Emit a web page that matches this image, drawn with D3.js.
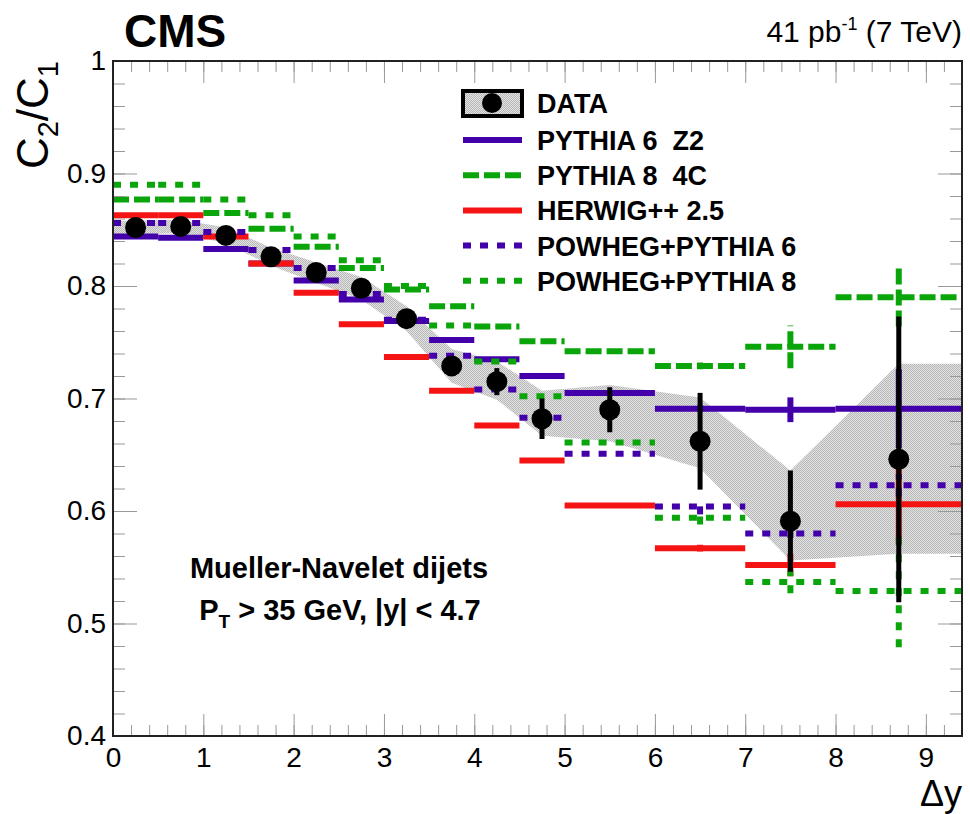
<!DOCTYPE html>
<html>
<head>
<meta charset="utf-8">
<script src="https://cdn.jsdelivr.net/npm/d3@7"></script>
<style>
    body { margin: 0; background: #fff; }
    svg { display: block; font-family: "Liberation Sans", Arial, Helvetica, sans-serif; }
    .tick line { stroke: #999; stroke-width: 1; }
    .tick text { font-size: 28px; fill: #000; }
</style>
</head>
<body>
<div id="chart"></div>
<script>
// bin edges and bin centres (delta y)
var binEdges = [0, 0.5, 1, 1.5, 2, 2.5, 3, 3.5, 4, 4.5, 5, 6, 7, 8, 9.4];
var binCentres = [0.25, 0.75, 1.25, 1.75, 2.25, 2.75, 3.25, 3.75, 4.25, 4.75, 5.5, 6.5, 7.5, 8.7];

// data points, stat errors and systematic band
var dataY = [0.852, 0.853, 0.845, 0.826, 0.812, 0.798, 0.771, 0.729, 0.715, 0.682, 0.690, 0.662, 0.591, 0.646];
var dataStat = [0.003, 0.003, 0.003, 0.004, 0.004, 0.005, 0.006, 0.008, 0.012, 0.018, 0.020, 0.043, 0.045, 0.127];
var sysUp = [0.006, 0.006, 0.007, 0.008, 0.009, 0.010, 0.011, 0.015, 0.018, 0.025, 0.022, 0.039, 0.045, 0.085];
var sysDown = [0.006, 0.006, 0.007, 0.008, 0.009, 0.010, 0.011, 0.015, 0.016, 0.015, 0.028, 0.024, 0.035, 0.084];

// MC predictions
var pythia6 = [0.844, 0.843, 0.833, 0.820, 0.805, 0.788, 0.769, 0.752, 0.735, 0.720, 0.705, 0.691, 0.690, 0.691];
var pythia6Err = [0, 0, 0, 0, 0, 0, 0, 0, 0, 0, 0, 0.003, 0.011, 0.035];
var pythia8 = [0.877, 0.877, 0.865, 0.851, 0.835, 0.816, 0.797, 0.782, 0.764, 0.751, 0.742, 0.729, 0.746, 0.790];
var pythia8Err = [0, 0, 0, 0, 0, 0, 0, 0, 0, 0, 0, 0.003, 0.019, 0.026];
var herwig = [0.863, 0.863, 0.844, 0.820, 0.794, 0.766, 0.737, 0.707, 0.676, 0.645, 0.605, 0.567, 0.552, 0.606];
var herwigErr = [0, 0, 0, 0, 0, 0, 0, 0, 0, 0, 0, 0.003, 0.01, 0.035];
var powhegP6 = [0.856, 0.856, 0.848, 0.832, 0.816, 0.793, 0.770, 0.738, 0.708, 0.683, 0.651, 0.604, 0.580, 0.623];
var powhegP6Err = [0, 0, 0, 0, 0, 0, 0, 0, 0, 0, 0, 0.007, 0.004, 0.01];
var powhegP8 = [0.890, 0.890, 0.877, 0.863, 0.844, 0.823, 0.800, 0.765, 0.733, 0.702, 0.661, 0.594, 0.537, 0.529];
var powhegP8Err = [0, 0, 0, 0, 0, 0, 0, 0, 0, 0, 0, 0.006, 0.01, 0.05];

var seriesNames = ["PYTHIA 6  Z2", "PYTHIA 8  4C", "HERWIG++ 2.5", "POWHEG+PYTHIA 6", "POWHEG+PYTHIA 8"];

var xTicks = [0, 1, 2, 3, 4, 5, 6, 7, 8, 9];
var yTicks = [0.4, 0.5, 0.6, 0.7, 0.8, 0.9, 1];
var yTickLabels = ["0.4", "0.5", "0.6", "0.7", "0.8", "0.9", "1"];

var margin = {
    top: 61,
    right: 8,
    bottom: 78,
    left: 113
};
var totalWidth = 970,
    totalHeight = 814;
var width = totalWidth - margin.left - margin.right,
    height = totalHeight - margin.top - margin.bottom;

var blue = "#4300aa",
    green = "#0aa50a",
    red = "#f51414";
var dashed = "16,5",
    dotted = "8,9";

var mc = [
    { name: seriesNames[0], vals: pythia6, errs: pythia6Err, color: blue, dash: null },
    { name: seriesNames[1], vals: pythia8, errs: pythia8Err, color: green, dash: dashed },
    { name: seriesNames[2], vals: herwig, errs: herwigErr, color: red, dash: null },
    { name: seriesNames[3], vals: powhegP6, errs: powhegP6Err, color: blue, dash: dotted },
    { name: seriesNames[4], vals: powhegP8, errs: powhegP8Err, color: green, dash: dotted }
];

var svg = d3.select("#chart").append("svg")
    .attr("width", totalWidth)
    .attr("height", totalHeight);

// stipple fill for the systematic band
var defs = svg.append("defs");
var pat = defs.append("pattern")
    .attr("id", "stipple")
    .attr("width", 2)
    .attr("height", 2)
    .attr("patternUnits", "userSpaceOnUse");
pat.append("rect").attr("width", 2).attr("height", 2).attr("fill", "#e2e2e2");
pat.append("rect").attr("x", 0).attr("y", 0).attr("width", 1).attr("height", 1).attr("fill", "#b8b8b8");
pat.append("rect").attr("x", 1).attr("y", 1).attr("width", 1).attr("height", 1).attr("fill", "#b8b8b8");

var x = d3.scaleLinear()
    .domain([0, 9.4])
    .range([0, width]);

var y = d3.scaleLinear()
    .domain([0.4, 1])
    .range([height, 0]);

var wrapper = svg.append("g")
    .attr("transform", "translate(" + margin.left + "," + margin.top + ")");

defs.append("clipPath")
    .attr("id", "clip")
    .append("rect")
    .attr("width", width)
    .attr("height", height);

var plot = wrapper.append("g")
    .attr("clip-path", "url(#clip)");

// systematic band (flat extension to both edges)
var bandPts = binCentres.map(function (c, i) {
    return { x: c, lo: dataY[i] - sysDown[i], hi: dataY[i] + sysUp[i] };
});
bandPts.unshift({ x: 0, lo: bandPts[0].lo, hi: bandPts[0].hi });
bandPts.push({ x: 9.4, lo: bandPts[bandPts.length - 1].lo, hi: bandPts[bandPts.length - 1].hi });

var band = d3.area()
    .x(function (d) { return x(d.x); })
    .y0(function (d) { return y(d.lo); })
    .y1(function (d) { return y(d.hi); });

plot.append("path")
    .datum(bandPts)
    .attr("d", band)
    .attr("fill", "url(#stipple)");

// MC histograms
mc.forEach(function (s) {
    var g = plot.append("g").attr("class", "mc");
    g.selectAll("line.h")
        .data(s.vals)
        .enter()
        .append("line")
        .attr("class", "h")
        .attr("x1", function (d, i) { return x(binEdges[i]); })
        .attr("x2", function (d, i) { return x(binEdges[i + 1]); })
        .attr("y1", function (d) { return y(d); })
        .attr("y2", function (d) { return y(d); })
        .attr("stroke", s.color)
        .attr("stroke-width", 6)
        .attr("stroke-dasharray", s.dash);
    var errs = [];
    s.vals.forEach(function (d, i) {
        if (s.errs[i] > 0) errs.push({ c: binCentres[i], v: d, e: s.errs[i] });
    });
    g.selectAll("line.e")
        .data(errs)
        .enter()
        .append("line")
        .attr("class", "e")
        .attr("x1", function (d) { return x(d.c); })
        .attr("x2", function (d) { return x(d.c); })
        .attr("y1", function (d) { return y(d.v - d.e); })
        .attr("y2", function (d) { return y(d.v + d.e); })
        .attr("stroke", s.color)
        .attr("stroke-width", 6)
        .attr("stroke-dasharray", s.dash);
});

// data points with stat errors
var pts = plot.append("g").attr("class", "data");
pts.selectAll("line")
    .data(dataY)
    .enter()
    .append("line")
    .attr("x1", function (d, i) { return x(binCentres[i]); })
    .attr("x2", function (d, i) { return x(binCentres[i]); })
    .attr("y1", function (d, i) { return y(d - dataStat[i]); })
    .attr("y2", function (d, i) { return y(d + dataStat[i]); })
    .attr("stroke", "#000")
    .attr("stroke-width", 5);
pts.selectAll("circle")
    .data(dataY)
    .enter()
    .append("circle")
    .attr("cx", function (d, i) { return x(binCentres[i]); })
    .attr("cy", function (d) { return y(d); })
    .attr("r", 10.5)
    .attr("fill", "#000");

// axes, ticks inward on all four sides
function minorVals(domain, step) {
    var out = [];
    for (var v = domain[0]; v <= domain[1] + 1e-9; v += step) out.push(+v.toFixed(3));
    return out;
}
var xMinor = minorVals([0, 9.4], 0.2);
var yMinor = minorVals([0.4, 1], 0.02);

wrapper.append("g")
    .attr("transform", "translate(0," + height + ")")
    .call(d3.axisBottom(x).tickValues(xMinor).tickSize(-11).tickFormat(""));
wrapper.append("g")
    .attr("transform", "translate(0," + height + ")")
    .call(d3.axisBottom(x).tickValues(xTicks).tickSize(-22).tickPadding(11).tickFormat(d3.format("d")));
wrapper.append("g")
    .call(d3.axisTop(x).tickValues(xMinor).tickSize(-11).tickFormat(""));
wrapper.append("g")
    .call(d3.axisTop(x).tickValues(xTicks).tickSize(-22).tickFormat(""));

wrapper.append("g")
    .call(d3.axisLeft(y).tickValues(yMinor).tickSize(-12).tickFormat(""));
wrapper.append("g")
    .call(d3.axisLeft(y).tickValues(yTicks).tickSize(-24).tickPadding(7)
        .tickFormat(function (d, i) { return yTickLabels[i]; }));
wrapper.append("g")
    .attr("transform", "translate(" + width + ",0)")
    .call(d3.axisRight(y).tickValues(yMinor).tickSize(-12).tickFormat(""));
wrapper.append("g")
    .attr("transform", "translate(" + width + ",0)")
    .call(d3.axisRight(y).tickValues(yTicks).tickSize(-24).tickFormat(""));

wrapper.selectAll(".domain").remove();

wrapper.append("rect")
    .attr("width", width)
    .attr("height", height)
    .attr("fill", "none")
    .attr("stroke", "#222")
    .attr("stroke-width", 2);

// legend
var legend = wrapper.append("g")
    .attr("transform", "translate(" + (462 - margin.left) + "," + (103 - margin.top) + ")");
legend.append("rect")
    .attr("x", 1)
    .attr("y", -12)
    .attr("width", 59)
    .attr("height", 25)
    .attr("fill", "url(#stipple)")
    .attr("stroke", "#000")
    .attr("stroke-width", 4);
legend.append("circle")
    .attr("cx", 30)
    .attr("cy", 0)
    .attr("r", 10)
    .attr("fill", "#000");
legend.append("text")
    .attr("x", 75)
    .attr("y", 10)
    .attr("font-size", 27)
    .attr("font-weight", "bold")
    .text("DATA");

mc.forEach(function (s, i) {
    var ly = 37 + i * 35.2;
    legend.append("line")
        .attr("x1", 1)
        .attr("x2", 60)
        .attr("y1", ly)
        .attr("y2", ly)
        .attr("stroke", s.color)
        .attr("stroke-width", 6)
        .attr("stroke-dasharray", s.dash);
    legend.append("text")
        .attr("x", 75)
        .attr("y", ly + 10)
        .attr("font-size", 27)
        .attr("font-weight", "bold")
        .style("white-space", "pre")
        .text(s.name);
});

// texts
svg.append("text")
    .attr("x", 124)
    .attr("y", 47)
    .attr("font-size", 46)
    .attr("font-weight", "bold")
    .text("CMS");

var lumi = svg.append("text")
    .attr("x", 962)
    .attr("y", 42)
    .attr("text-anchor", "end")
    .attr("font-size", 30);
lumi.append("tspan").text("41 pb");
lumi.append("tspan").attr("font-size", 18).attr("dy", -12).text("-1");
lumi.append("tspan").attr("dy", 12).text(" (7 TeV)");

var ytitle = svg.append("text")
    .attr("transform", "translate(48,61) rotate(-90)")
    .attr("text-anchor", "end")
    .attr("font-size", 44);
ytitle.append("tspan").text("C");
ytitle.append("tspan").attr("font-size", 29).attr("dy", 10).text("2");
ytitle.append("tspan").attr("dy", -10).text("/C");
ytitle.append("tspan").attr("font-size", 29).attr("dy", 10).text("1");

svg.append("text")
    .attr("x", 962)
    .attr("y", 806)
    .attr("text-anchor", "end")
    .attr("font-size", 36)
    .text("\u0394y");

svg.append("text")
    .attr("x", 339)
    .attr("y", 578)
    .attr("text-anchor", "middle")
    .attr("font-size", 29)
    .attr("font-weight", "bold")
    .text("Mueller-Navelet dijets");

var cut = svg.append("text")
    .attr("x", 340)
    .attr("y", 620)
    .attr("text-anchor", "middle")
    .attr("font-size", 29)
    .attr("font-weight", "bold");
cut.append("tspan").text("P");
cut.append("tspan").attr("font-size", 19).attr("dy", 8).text("T");
cut.append("tspan").attr("dy", -8).text(" > 35 GeV, |y| < 4.7");
</script>
</body>
</html>
